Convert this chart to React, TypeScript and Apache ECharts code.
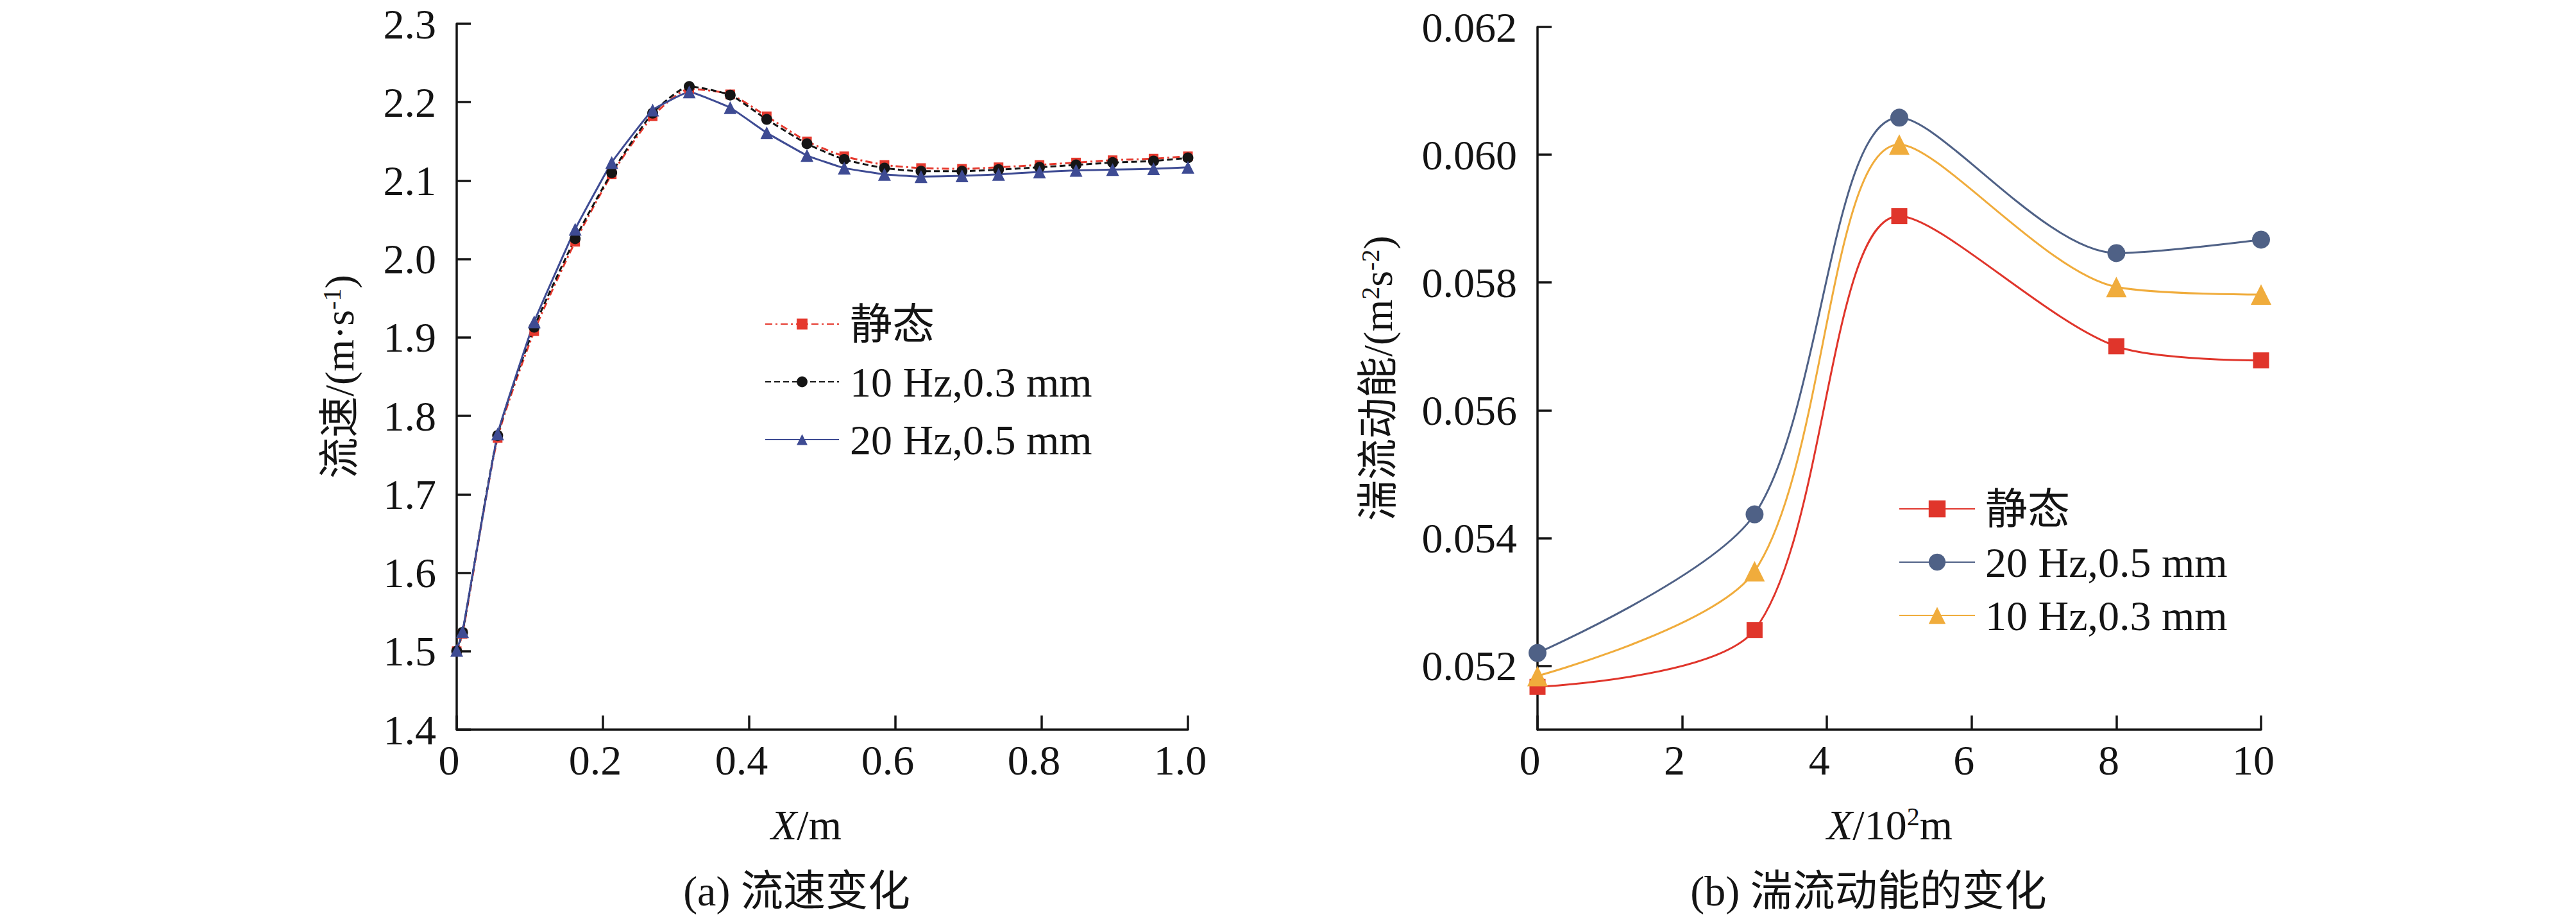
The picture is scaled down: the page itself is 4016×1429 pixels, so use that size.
import React, { useEffect, useRef } from "react";
import * as echarts from "echarts";

// ---- Data: (a) flow velocity ----
const xA = [0, 0.008, 0.056, 0.106, 0.162, 0.212, 0.268, 0.318, 0.374, 0.424, 0.479, 0.53, 0.585, 0.635, 0.691, 0.741, 0.797, 0.847, 0.897, 0.953, 1.0];
const velStatic = [1.50, 1.522, 1.772, 1.908, 2.022, 2.108, 2.182, 2.217, 2.21, 2.182, 2.15, 2.131, 2.12, 2.116, 2.115, 2.117, 2.12, 2.123, 2.126, 2.128, 2.131];
const vel10Hz = [1.50, 1.524, 1.775, 1.913, 2.026, 2.11, 2.186, 2.22, 2.209, 2.178, 2.147, 2.127, 2.116, 2.112, 2.112, 2.114, 2.117, 2.12, 2.123, 2.125, 2.129];
const vel20Hz = [1.501, 1.525, 1.777, 1.92, 2.038, 2.123, 2.19, 2.213, 2.193, 2.161, 2.132, 2.116, 2.108, 2.105, 2.106, 2.108, 2.111, 2.113, 2.114, 2.115, 2.117];

// ---- Data: (b) turbulent kinetic energy ----
const xB = [0, 3, 5, 8, 10];
const tkeStatic = [0.05167, 0.05256, 0.05904, 0.057, 0.05678];
const tke20Hz = [0.0522, 0.05437, 0.06058, 0.05846, 0.05867];
const tke10Hz = [0.05184, 0.05348, 0.06016, 0.05793, 0.05781];

const yTicksB = [0.052, 0.054, 0.056, 0.058, 0.06, 0.062];

const legendA = ["静态", "10 Hz,0.3 mm", "20 Hz,0.5 mm"];
const legendB = ["静态 ", "20 Hz,0.5 mm ", "10 Hz,0.3 mm "];

const FONT = "'Liberation Serif', 'Times New Roman', 'Noto Sans CJK SC', serif";
const INK = "#141414";

const pairs = (xs: number[], ys: number[]) => xs.map((x, i) => [x, ys[i]]);

const supStyle = { fontSize: 40, fontFamily: FONT, color: INK, verticalAlign: "top", lineHeight: 40 };
const itStyle = { fontSize: 66, fontFamily: FONT, color: INK, fontStyle: "italic" };

const axisLineCommon = { show: true, lineStyle: { color: INK, width: 3.5 } };
const axisTickCommon = { show: true, inside: true, length: 22, lineStyle: { color: INK, width: 3.5 } };
const labelCommon = { fontSize: 66, fontFamily: FONT, color: INK };

export default function App() {
  const ref = useRef<HTMLDivElement>(null);
  useEffect(() => {
    if (!ref.current) return;
    const chart = echarts.init(ref.current, undefined, { renderer: "svg" });
    const option: any = {
      animation: false,
      backgroundColor: "#ffffff",
      grid: [
        { left: 712, top: 37, width: 1140, height: 1100, outerBoundsMode: "none" },
        { left: 2397, top: 42, width: 1128, height: 1095, outerBoundsMode: "none" },
      ],
      xAxis: [
        {
          gridIndex: 0,
          type: "value",
          min: 0,
          max: 1,
          interval: 0.2,
          name: "{it|X}/m",
          nameLocation: "middle",
          nameGap: 115,
          nameTextStyle: { ...labelCommon, padding: [0, 50, 0, 0], rich: { it: itStyle } },
          axisLine: axisLineCommon,
          axisTick: axisTickCommon,
          splitLine: { show: false },
          axisLabel: {
            ...labelCommon,
            margin: 14,
            padding: [0, 24, 0, 0],
            formatter: (v: number) => (v === 0 ? "0" : v.toFixed(1)),
          },
        },
        {
          gridIndex: 1,
          type: "value",
          min: 0,
          max: 10,
          interval: 2,
          name: "{it|X}/10{sup|2}m",
          nameLocation: "middle",
          nameGap: 115,
          nameTextStyle: { ...labelCommon, padding: [0, 30, 0, 0], rich: { it: itStyle, sup: supStyle } },
          axisLine: axisLineCommon,
          axisTick: axisTickCommon,
          splitLine: { show: false },
          axisLabel: { ...labelCommon, margin: 14, padding: [0, 24, 0, 0], formatter: (v: number) => String(v) },
        },
      ],
      yAxis: [
        {
          gridIndex: 0,
          type: "value",
          min: 1.4,
          max: 2.3,
          interval: 0.1,
          name: "流速/(m·s{sup|-1})",
          nameLocation: "middle",
          nameGap: 151,
          nameTextStyle: { fontSize: 64, fontFamily: FONT, color: INK, rich: { sup: supStyle } },
          axisLine: axisLineCommon,
          axisTick: axisTickCommon,
          splitLine: { show: false },
          axisLabel: { ...labelCommon, margin: 32, formatter: (v: number) => v.toFixed(1) },
        },
        {
          gridIndex: 1,
          type: "value",
          min: 0.051,
          max: 0.062,
          name: "湍流动能/(m{sup|2}s{sup|-2})",
          nameLocation: "middle",
          nameGap: 217,
          nameTextStyle: { fontSize: 64, fontFamily: FONT, color: INK, rich: { sup: supStyle } },
          axisLine: axisLineCommon,
          axisTick: { ...axisTickCommon, customValues: yTicksB },
          splitLine: { show: false },
          axisLabel: { ...labelCommon, margin: 32, customValues: yTicksB, formatter: (v: number) => v.toFixed(3) },
        },
      ],
      legend: [
        {
          left: 1187,
          top: 465,
          orient: "vertical",
          selectedMode: false,
          itemWidth: 115,
          itemHeight: 21,
          itemGap: 20,
          data: legendA,
          textStyle: { ...labelCommon, lineHeight: 70, padding: [0, 0, 0, 12] },
        },
        {
          left: 2955,
          top: 753,
          orient: "vertical",
          selectedMode: false,
          itemWidth: 118,
          itemHeight: 33,
          itemGap: 13,
          data: legendB,
          textStyle: { ...labelCommon, lineHeight: 70, padding: [0, 0, 0, 11] },
        },
      ],
      series: [
        {
          name: legendA[0],
          type: "line",
          xAxisIndex: 0,
          yAxisIndex: 0,
          data: pairs(xA, velStatic),
          smooth: 0.2,
          symbol: "rect",
          symbolSize: 15,
          itemStyle: { color: "#e5392e" },
          lineStyle: { color: "#e5392e", width: 3, type: [11, 5, 3, 5] },
        },
        {
          name: legendA[1],
          type: "line",
          xAxisIndex: 0,
          yAxisIndex: 0,
          data: pairs(xA, vel10Hz),
          smooth: 0.2,
          symbol: "circle",
          symbolSize: 17,
          itemStyle: { color: "#151515" },
          lineStyle: { color: "#151515", width: 3, type: [9, 5] },
        },
        {
          name: legendA[2],
          type: "line",
          xAxisIndex: 0,
          yAxisIndex: 0,
          data: pairs(xA, vel20Hz),
          smooth: 0.1,
          symbol: "triangle",
          symbolSize: 20,
          itemStyle: { color: "#3e4b93" },
          lineStyle: { color: "#3e4b93", width: 3 },
        },
        {
          name: legendB[0],
          type: "line",
          xAxisIndex: 1,
          yAxisIndex: 1,
          data: pairs(xB, tkeStatic),
          smooth: 0.3,
          symbol: "rect",
          symbolSize: 25,
          clip: false,
          itemStyle: { color: "#e0352b" },
          lineStyle: { color: "#e0352b", width: 3 },
        },
        {
          name: legendB[1],
          type: "line",
          xAxisIndex: 1,
          yAxisIndex: 1,
          data: pairs(xB, tke20Hz),
          smooth: 0.3,
          symbol: "circle",
          symbolSize: 28,
          clip: false,
          itemStyle: { color: "#4f6186" },
          lineStyle: { color: "#4f6186", width: 3 },
        },
        {
          name: legendB[2],
          type: "line",
          xAxisIndex: 1,
          yAxisIndex: 1,
          data: pairs(xB, tke10Hz),
          smooth: 0.3,
          symbol: "triangle",
          symbolSize: 32,
          clip: false,
          itemStyle: { color: "#f0ac3c" },
          lineStyle: { color: "#f0ac3c", width: 3 },
        },
      ],
      graphic: [
        {
          type: "text",
          x: 1242,
          y: 1388,
          style: { text: "(a) 流速变化", fontSize: 66, fontFamily: FONT, fill: INK, align: "center", verticalAlign: "middle" },
        },
        {
          type: "text",
          x: 2913,
          y: 1388,
          style: { text: "(b) 湍流动能的变化", fontSize: 66, fontFamily: FONT, fill: INK, align: "center", verticalAlign: "middle" },
        },
      ],
    };
    chart.setOption(option);
    return () => chart.dispose();
  }, []);
  return (
    <div
      ref={ref}
      style={{ position: "fixed", left: 0, top: 0, width: 4016, height: 1429, background: "#fff" }}
    />
  );
}
